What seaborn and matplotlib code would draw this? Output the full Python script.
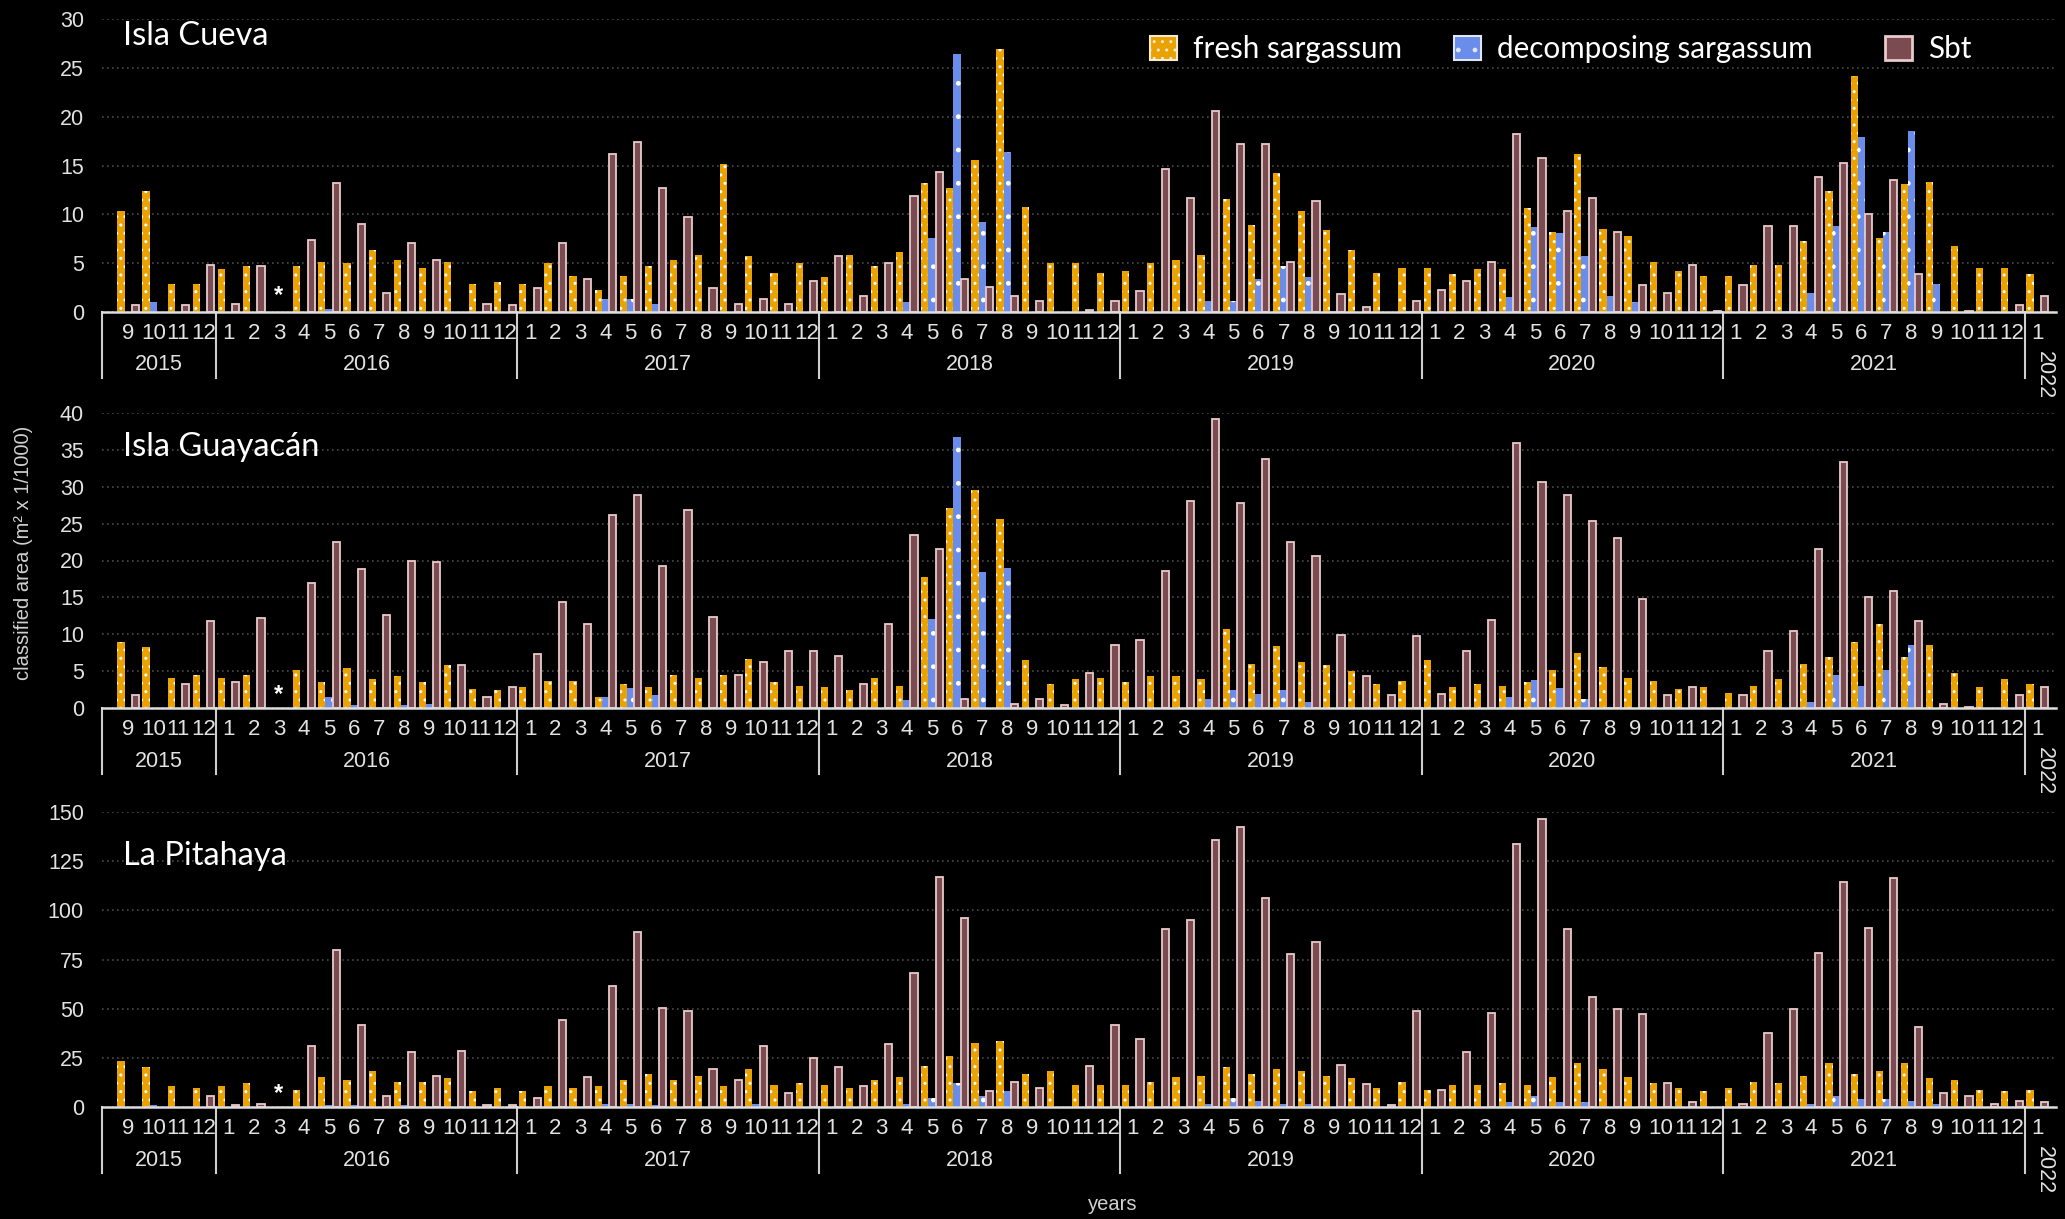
import numpy as np
import pandas as pd
import matplotlib
matplotlib.use("Agg")
import matplotlib.pyplot as plt
import matplotlib.transforms as mtransforms
from matplotlib.patches import Patch
import seaborn as sns

nan = np.nan

# ---- time axis: Sep 2015 .. Jan 2022 -------------------------------------
year_labels = ["2015", "2016", "2017", "2018", "2019", "2020", "2021", "2022"]
month_labels = [9, 10, 11, 12] + list(range(1, 13)) * 6 + [1]

# ---- Isla Cueva -------------------------------------------------------------
cueva_fresh = [10.3, 12.4, 2.9, 2.9,
               4.4, 4.7, nan, 4.7, 5.15, 5.0, 6.3, 5.3, 4.5, 5.15, 2.9, 3.1,
               2.9, 5.0, 3.7, 2.3, 3.7, 4.7, 5.3, 5.8, 15.15, 5.7, 4.0, 5.0,
               3.55, 5.8, 4.7, 6.1, 13.2, 12.7, 15.6, 26.9, 10.8, 5.0, 5.0, 4.0,
               4.2, 5.0, 5.3, 5.8, 11.6, 8.9, 14.2, 10.3, 8.4, 6.3, 4.0, 4.5,
               4.5, 3.9, 4.4, 4.4, 10.6, 8.2, 16.2, 8.5, 7.75, 5.15, 4.2, 3.7,
               3.7, 4.85, 4.85, 7.3, 12.4, 24.2, 7.6, 13.1, 13.3, 6.75, 4.5, 4.5,
               3.9]
cueva_decomp = [0, 1.0, 0, 0,
                0, 0, nan, 0, 0.3, 0.15, 0.1, 0, 0, 0, 0, 0,
                0, 0, 0, 1.3, 1.3, 0.85, 0, 0, 0, 0, 0, 0,
                0, 0, 0, 1.0, 7.6, 26.4, 9.2, 16.4, 0, 0, 0, 0,
                0, 0, 0, 1.1, 1.1, 3.4, 4.7, 3.55, 0.15, 0, 0, 0.15,
                0, 0, 0, 1.5, 8.7, 8.05, 5.7, 1.6, 1.0, 0, 0, 0,
                0, 0, 0.15, 1.95, 8.85, 17.9, 8.2, 18.5, 2.9, 0, 0, 0,
                0]
cueva_sbt = [0.7, 0, 0.7, 4.8,
             0.85, 4.7, nan, 7.4, 13.2, 9.0, 1.95, 7.1, 5.3, 0, 0.85, 0.7,
             2.45, 7.1, 3.4, 16.2, 17.4, 12.7, 9.7, 2.45, 0.85, 1.3, 0.85, 3.2,
             5.7, 1.6, 5.0, 11.9, 14.3, 3.4, 2.6, 1.6, 1.1, 0, 0.2, 1.1,
             2.1, 14.6, 11.7, 20.6, 17.2, 17.2, 5.15, 11.4, 1.8, 0.5, 0, 1.1,
             2.25, 3.2, 5.15, 18.2, 15.8, 10.3, 11.7, 8.2, 2.75, 1.95, 4.85, 0.15,
             2.75, 8.85, 8.85, 13.8, 15.3, 10.0, 13.5, 3.9, 0, 0.15, 0, 0.7,
             1.6]

# ---- Isla Guayacán ----------------------------------------------------------
guayacan_fresh = [8.9, 8.3, 4.1, 4.5,
                  4.1, 4.5, nan, 5.2, 3.5, 5.4, 3.9, 4.3, 3.5, 5.8, 2.6, 2.4,
                  2.8, 3.7, 3.7, 1.5, 3.3, 2.8, 4.5, 4.1, 4.5, 6.7, 3.5, 3.0,
                  2.8, 2.4, 4.1, 3.0, 17.8, 27.1, 29.6, 25.6, 6.5, 3.3, 3.9, 4.1,
                  3.5, 4.3, 4.3, 3.9, 10.7, 6.0, 8.4, 6.2, 5.8, 5.0, 3.3, 3.7,
                  6.5, 2.8, 3.3, 3.0, 3.5, 5.2, 7.5, 5.6, 4.1, 3.7, 2.6, 2.8,
                  2.1, 3.0, 3.9, 6.0, 6.9, 9.0, 11.4, 6.9, 8.6, 4.7, 2.8, 3.9,
                  3.2]
guayacan_decomp = [0, 0, 0, 0,
                   0, 0, nan, 0, 1.5, 0.4, 0.2, 0.4, 0.6, 0, 0, 0,
                   0, 0, 0, 1.5, 2.7, 1.7, 0.2, 0, 0, 0, 0, 0,
                   0, 0, 0, 1.05, 12.1, 36.8, 18.4, 19.0, 0, 0, 0, 0,
                   0, 0, 0, 1.2, 2.5, 1.9, 2.5, 0.8, 0, 0, 0, 0,
                   0, 0, 0, 1.45, 3.8, 2.7, 1.2, 0.2, 0, 0, 0, 0,
                   0, 0, 0, 0.8, 4.5, 2.95, 5.1, 8.5, 0, 0, 0, 0,
                   0]
guayacan_sbt = [1.8, 0, 3.3, 11.8,
                3.5, 12.2, nan, 17.0, 22.5, 18.9, 12.6, 19.9, 19.8, 5.8, 1.5, 2.8,
                7.3, 14.4, 11.4, 26.2, 28.9, 19.3, 26.8, 12.4, 4.5, 6.2, 7.7, 7.7,
                7.1, 3.3, 11.4, 23.4, 21.6, 1.2, 0, 0.6, 1.2, 0.4, 4.7, 8.6,
                9.2, 18.6, 28.1, 39.2, 27.8, 33.7, 22.5, 20.6, 9.9, 4.3, 1.7, 9.7,
                1.9, 7.7, 12.0, 35.9, 30.6, 28.9, 25.3, 23.1, 14.8, 1.8, 2.9, 0,
                1.8, 7.7, 10.5, 21.6, 33.4, 15.0, 15.9, 11.8, 0.55, 0.2, 0, 1.8,
                2.8]

# ---- La Pitahaya ------------------------------------------------------------
pitahaya_fresh = [23.3, 20.1, 10.5, 9.7,
                  10.5, 12.1, nan, 8.8, 15.3, 13.6, 18.5, 12.8, 12.8, 14.5, 8.0, 9.7,
                  8.0, 10.5, 9.7, 10.5, 13.6, 16.8, 13.6, 16.0, 10.5, 19.2, 11.2, 12.1,
                  11.2, 9.7, 13.6, 15.3, 20.9, 25.7, 32.7, 33.7, 16.8, 18.5, 11.2, 11.2,
                  11.2, 12.8, 15.3, 16.0, 20.1, 16.8, 19.2, 18.5, 16.0, 14.5, 9.7, 12.8,
                  8.8, 11.2, 11.2, 12.1, 11.2, 15.3, 22.4, 19.2, 15.3, 12.1, 9.7, 8.0,
                  9.7, 12.8, 12.1, 16.0, 22.4, 16.8, 18.5, 22.4, 14.5, 13.6, 8.8, 8.0,
                  8.8]
pitahaya_decomp = [0, 0.8, 0, 0,
                   0, 0, nan, 0, 0.8, 0.8, 0, 0.8, 0, 0, 0, 0,
                   0, 0, 0, 1.5, 1.5, 0.8, 0, 0, 0, 1.5, 0, 0,
                   0, 0, 0, 1.5, 4.8, 12.1, 5.6, 8.0, 0, 0, 0, 0,
                   0, 0, 0, 1.5, 4.8, 3.2, 1.5, 1.5, 0, 0, 0, 0,
                   0, 0, 0, 2.4, 5.6, 2.4, 2.4, 0, 0, 0, 0, 0,
                   0, 0, 0, 1.5, 5.6, 4.1, 4.1, 3.2, 1.5, 0, 0, 0,
                   0]
pitahaya_sbt = [0, 0, 0, 5.6,
                0.8, 1.7, nan, 31.1, 79.9, 41.5, 5.6, 28.1, 16.0, 28.7, 0.8, 0.8,
                4.8, 44.0, 15.3, 61.6, 88.8, 50.3, 48.8, 19.2, 13.6, 31.1, 7.1, 24.8,
                20.1, 10.5, 32.0, 68.0, 116.8, 96.1, 8.0, 12.8, 9.7, 0, 20.9, 41.5,
                34.4, 90.5, 95.2, 136.0, 142.5, 106.5, 77.6, 84.0, 21.6, 11.9, 0.8, 48.8,
                8.8, 28.1, 48.0, 133.7, 146.6, 90.5, 56.0, 49.7, 47.1, 12.1, 2.4, 0,
                1.5, 37.6, 49.7, 78.4, 114.5, 91.2, 116.2, 40.8, 7.1, 5.6, 1.5, 3.2,
                2.4]

KINDS = ["fresh sargassum", "decomposing sargassum", "Sbt"]
COLORS = {"fresh sargassum": "#E9A200",
          "decomposing sargassum": "#6A8CEB",
          "Sbt": "#7B4B52"}
SBT_EDGE = "#E8CACA"
TEXT = "#E2E2E2"

plt.rcParams["font.family"] = ["Liberation Sans", "DejaVu Sans"]
plt.rcParams["hatch.color"] = "white"
plt.rcParams["hatch.linewidth"] = 1.0

W, H = 2065, 1219
fig = plt.figure(figsize=(W / 100, H / 100), dpi=100, facecolor="black")

n = len(month_labels)
XLIM = (-1.04, 76.75)
boundaries = [XLIM[0], 3.5, 15.5, 27.5, 39.5, 51.5, 63.5, 75.5]


def draw_panel(rect, fresh, decomp, sbt, ymax, ystep, title, title_base, star_frac):
    ax = fig.add_axes(rect)
    ax.set_facecolor("black")
    df = pd.DataFrame({
        "slot": np.tile(np.arange(n), 3),
        "kind": np.repeat(KINDS, n),
        "value": np.concatenate([fresh, decomp, sbt]).astype(float),
    })
    sns.barplot(data=df, x="slot", y="value", hue="kind", order=list(range(n)),
                hue_order=KINDS, palette=COLORS, errorbar=None, width=0.86,
                saturation=1, legend=False, ax=ax)

    # per-series bar styling
    for kind, cont in zip(KINDS, ax.containers):
        for bar in cont:
            h = bar.get_height()
            if not np.isfinite(h) or h == 0:
                bar.set_visible(False)
                continue
            if kind == "fresh sargassum":
                bar.set_hatch("..")
                bar.set_edgecolor("white")
                bar.set_linewidth(0)
            elif kind == "decomposing sargassum":
                bar.set_hatch(".")
                bar.set_edgecolor("white")
                bar.set_linewidth(0)
            else:
                bar.set_edgecolor(SBT_EDGE)
                bar.set_linewidth(1.3)

    ax.set_xlim(*XLIM)
    ax.set_ylim(0, ymax)
    ax.set_yticks(np.arange(0, ymax + 0.1, ystep))
    ax.set_yticklabels([f"{v:g}" for v in np.arange(0, ymax + 0.1, ystep)])
    ax.set_xticks(range(n))
    ax.set_xticklabels([str(m) for m in month_labels])
    ax.tick_params(axis="y", length=0, pad=13, labelsize=15.5, labelcolor=TEXT)
    ax.tick_params(axis="x", length=0, pad=8, labelsize=16, labelcolor=TEXT)
    ax.set_xlabel("")
    ax.set_ylabel("")
    for s in ("top", "right", "left"):
        ax.spines[s].set_visible(False)
    ax.spines["bottom"].set_color("#DDDDDD")
    ax.spines["bottom"].set_linewidth(1.8)
    ax.grid(axis="y", linestyle=(0, (1, 2)), color="#4A4A4A", linewidth=1.2)
    ax.grid(axis="x", visible=False)
    ax.set_axisbelow(True)

    trans = mtransforms.blended_transform_factory(ax.transData, ax.transAxes)
    for b in boundaries:
        ax.plot([b, b], [0, -0.225], transform=trans, color="#CFCFCF",
                lw=1.5, clip_on=False)
    centers = [(boundaries[i] + boundaries[i + 1]) / 2 for i in range(len(boundaries) - 1)]
    for c, lab in zip(centers, year_labels[:-1]):
        ax.text(c, -0.18, lab, transform=trans, ha="center", va="center",
                fontsize=15.5, color=TEXT)
    ax.text(76.3, -0.215, year_labels[-1], transform=trans, ha="center",
            va="center", rotation=270, fontsize=15.5, color=TEXT)

    # missing survey (March 2016)
    ax.text(6, star_frac, "*", transform=trans, ha="center", va="center",
            fontsize=17, color="white", fontweight="bold")

    fig.text(123 / W, 1 - title_base / H, title, fontsize=23.5, color="white",
             family=["Lato", "DejaVu Sans"], ha="left", va="baseline")
    return ax


left = 102 / W
width = (2056 - 102) / W
ax1 = draw_panel([left, 1 - 312 / H, width, 293 / H], cueva_fresh, cueva_decomp,
                 cueva_sbt, 30, 5, "Isla Cueva", 45, 0.055)
ax2 = draw_panel([left, 1 - 708 / H, width, 295 / H], guayacan_fresh, guayacan_decomp,
                 guayacan_sbt, 40, 5, "Isla Guayacán", 456, 0.045)
ax3 = draw_panel([left, 1 - 1107 / H, width, 295 / H], pitahaya_fresh, pitahaya_decomp,
                 pitahaya_sbt, 150, 25, "La Pitahaya", 865, 0.045)

# legend entries, each placed on its own column position
handles = [
    Patch(facecolor=COLORS["fresh sargassum"], edgecolor="#F6EBD2", hatch="..", lw=1.5),
    Patch(facecolor=COLORS["decomposing sargassum"], edgecolor="#E0E6FA", hatch=".", lw=1.5),
    Patch(facecolor=COLORS["Sbt"], edgecolor=SBT_EDGE, lw=2),
]
for handle, label, xpix in zip(handles, KINDS, [1150, 1454, 1885]):
    fig.legend([handle], [label], loc="center left",
               bbox_to_anchor=(xpix / W, 1 - 49 / H),
               frameon=False, borderpad=0, borderaxespad=0,
               prop={"family": ["Lato", "DejaVu Sans"], "size": 21.3},
               labelcolor="white", handlelength=0.9, handleheight=0.85,
               handletextpad=0.55)

fig.text(24 / W, 1 - 553 / H, "classified area (m² x 1/1000)", rotation=90,
         ha="center", va="center", fontsize=14.5, color="#D0D0D0")
fig.text(1113 / W, 1 - 1204 / H, "years", ha="center", va="center",
         fontsize=14.5, color="#D0D0D0")

fig.savefig("out.png", dpi=100, facecolor="black")
